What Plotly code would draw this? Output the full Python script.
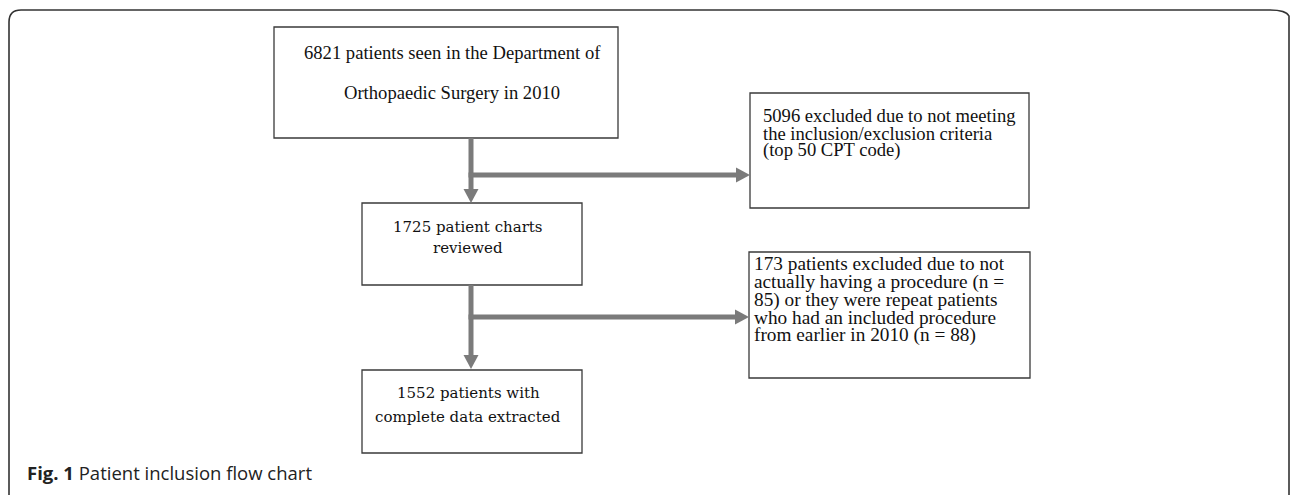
import plotly.graph_objects as go

W, H = 1290, 495

# ---- content ----
box_top_lines = ["6821 patients seen in the Department of", "Orthopaedic Surgery in 2010"]
box_excl1_lines = ["5096 excluded due to not meeting", "the inclusion/exclusion criteria", "(top 50 CPT code)"]
box_reviewed_lines = ["1725 patient charts", "reviewed"]
box_excl2_lines = ["173 patients excluded due to not", "actually having a procedure (n =",
                   "85) or they were repeat patients", "who had an included procedure",
                   "from earlier in 2010 (n = 88)"]
box_final_lines = ["1552 patients with", "complete data extracted"]
caption_bold = "Fig. 1"
caption_text = "Patient inclusion flow chart"

# ---- layout geometry (pixels) ----
boxes = [(274, 27, 618, 138), (750, 93, 1029, 208), (362, 203, 582, 285),
         (749, 252, 1030, 378), (362, 370, 582, 453)]
ARROW_C = "#7b7b7b"
BOX_C = "#3a3a3a"

fig = go.Figure()
fig.add_trace(go.Scatter(x=[0, W], y=[0, H], mode="markers", marker=dict(opacity=0), hoverinfo="skip", showlegend=False))

shapes = []
# outer rounded border
r = 12
ob = f"M 9,{H+10} L 9,{10+r} Q 9,10 {9+r},10 L {W-8-r},10 Q {W-4},10 {W-1},16 L {W-1},{H+10}"
shapes.append(dict(type="path", path=ob, xref="x", yref="y", line=dict(color="#333", width=1.6)))

for (x0, y0, x1, y1) in boxes:
    shapes.append(dict(type="rect", x0=x0, y0=y0, x1=x1, y1=y1, xref="x", yref="y",
                       line=dict(color=BOX_C, width=1.3), fillcolor="rgba(0,0,0,0)"))

ax = 471
hl = 14
hw = 7.5
def vline(y0, y1):
    shapes.append(dict(type="line", x0=ax, y0=y0, x1=ax, y1=y1 - hl, xref="x", yref="y",
                       line=dict(color=ARROW_C, width=5)))
    shapes.append(dict(type="path", path=f"M {ax-hw},{y1-hl} L {ax+hw},{y1-hl} L {ax},{y1} Z",
                       xref="x", yref="y", fillcolor=ARROW_C, line=dict(width=0)))
def hline(y, x1):
    shapes.append(dict(type="line", x0=ax - 2.5, y0=y, x1=x1 - hl, y1=y, xref="x", yref="y",
                       line=dict(color=ARROW_C, width=5)))
    shapes.append(dict(type="path", path=f"M {x1-hl},{y-hw} L {x1-hl},{y+hw} L {x1},{y} Z",
                       xref="x", yref="y", fillcolor=ARROW_C, line=dict(width=0)))

vline(138, 203)
hline(175, 750)
vline(285, 369)
hline(317, 749)

ann = []
TF = "Liberation Serif, Times New Roman, serif"
t1 = dict(family=TF, size=18.6, color="#111")
t2 = dict(family=TF, size=18.6, color="#111")
t4 = dict(family=TF, size=19.3, color="#111")
camb = dict(family="DejaVu Serif, serif", size=15, color="#111")

def add_lines(lines, x, ys, font, anchor):
    for t, y in zip(lines, ys):
        ann.append(dict(x=x, y=y, text=t, xref="x", yref="y", showarrow=False,
                        xanchor=anchor, yanchor="middle", font=font))

add_lines(box_top_lines, 452, [52, 92], t1, "center")
add_lines(box_excl1_lines, 761, [115, 133, 150], t2, "left")
add_lines(box_reviewed_lines, 468, [227, 248], camb, "center")
add_lines(box_excl2_lines, 752, [263, 282, 300, 317, 335], t4, "left")
add_lines(box_final_lines, 468, [393, 417], camb, "center")

ann.append(dict(x=25, y=472, xref="x", yref="y", showarrow=False, xanchor="left", yanchor="middle",
                text=f"<b>{caption_bold}</b> {caption_text}",
                font=dict(family="Open Sans, sans-serif", size=18.5, color="#222")))

fig.update_layout(width=W, height=H, margin=dict(l=0, r=0, t=0, b=0),
                  paper_bgcolor="white", plot_bgcolor="white",
                  shapes=shapes, annotations=ann,
                  xaxis=dict(range=[0, W], visible=False, fixedrange=True),
                  yaxis=dict(range=[H, 0], visible=False, fixedrange=True),
                  showlegend=False)
fig.write_html("out.html", config={"displayModeBar": False},
               post_script="document.body.style.margin='0';document.body.style.overflow='hidden';")
